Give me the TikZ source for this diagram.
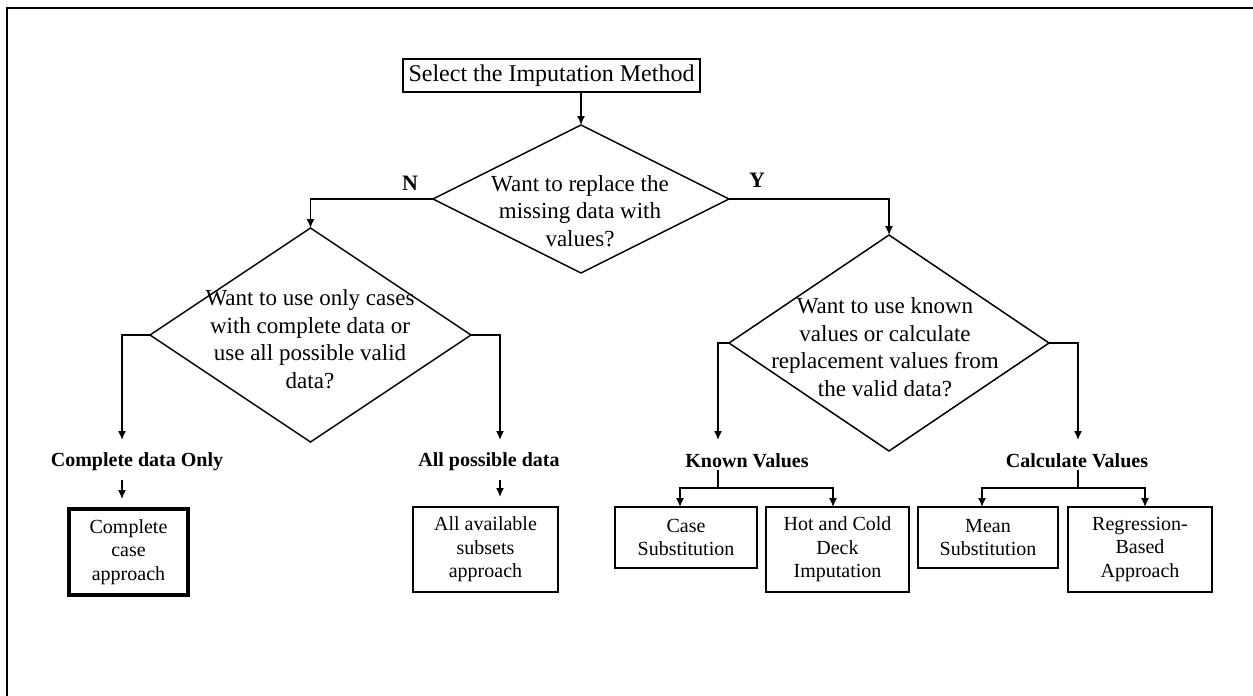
\documentclass[tikz,border=0pt]{standalone}
\usepackage{fontspec}
\setmainfont{Liberation Serif}
\usetikzlibrary{shapes.geometric,arrows.meta,calc}
\begin{document}
\begin{tikzpicture}[x=1pt,y=-1pt,
  every node/.style={inner sep=0pt, outer sep=0pt},
  arr/.style={-{Latex[length=9pt,width=8pt]}, line width=1.5pt},
  ln/.style={line width=1.5pt},
  boxn/.style={draw, line width=1.4pt, align=center, font=\fontsize{20}{23.5}\selectfont},
  dia/.style={draw, diamond, line width=1.5pt, inner sep=0pt},
  dtxt/.style={align=center, font=\fontsize{23}{27.5}\selectfont},
  lbl/.style={font=\fontsize{20}{24}\bfseries\selectfont, inner sep=2pt},
  yn/.style={font=\fontsize{22}{24}\bfseries\selectfont}]
\useasboundingbox (0,0) rectangle (1253,696);
% frame
\draw[line width=2pt] (7,696) -- (7,8) -- (1253,8);
% nodes
\node[boxn, minimum width=297pt, minimum height=33pt, font=\fontsize{24}{28}\selectfont] (top) at (551.5,75.5) {Select the Imputation Method};
\node[dia, minimum width=296pt, minimum height=148pt] (d1) at (581,199) {};
\node[dtxt] (t1) at (580,211) {Want to replace the\\missing data with\\values?};
\node[yn] (N) at (410,183) {N};
\node[yn] (Y) at (757,180) {Y};
\node[dia, minimum width=321pt, minimum height=214pt] (dL) at (310.5,335) {};
\node[dtxt] (tL) at (310,339) {Want to use only cases\\with complete data or\\use all possible valid\\data?};
\node[dia, minimum width=320pt, minimum height=216pt] (dR) at (889,343) {};
\node[dtxt] (tR) at (885,347) {Want to use known\\values or calculate\\replacement values from\\the valid data?};
\node[lbl] (lA) at (137,462) {Complete data Only};
\node[lbl] (lB) at (489,462) {All possible data};
\node[lbl] (lK) at (747,461) {Known Values};
\node[lbl] (lC) at (1077,461) {Calculate Values};
\node[boxn, line width=4pt, minimum width=119pt, minimum height=86pt] (bA) at (128.5,552) {Complete\\case\\approach};
\node[boxn, minimum width=145pt, minimum height=85pt] (bB) at (485.5,549.5) {All available\\subsets\\approach};
\node[boxn, minimum width=142pt, minimum height=61pt] (bC) at (686,537.5) {Case\\Substitution};
\node[boxn, minimum width=143pt, minimum height=85pt] (bD) at (837.5,549.5) {Hot and Cold\\Deck\\Imputation};
\node[boxn, minimum width=140pt, minimum height=61pt] (bE) at (988,537.5) {Mean\\Substitution};
\node[boxn, minimum width=144pt, minimum height=85pt] (bF) at (1140,549.5) {Regression-\\Based\\Approach};
% coordinates
\coordinate (cA) at (122,440);
\coordinate (cB) at (500,440);
\coordinate (cK) at (718,440);
\coordinate (cC) at (1078,440);
\coordinate (kj) at (718,488);
\coordinate (cj) at (1078,488);
% connectors
\draw[arr] (top.south -| d1.north) -- (d1.north);
\draw[arr] (d1.west) -| (dL.north);
\draw[arr] (d1.east) -| (dR.north);
\draw[arr] (dL.west) -| (cA);
\draw[arr] (dL.east) -| (cB);
\draw[arr] (dR.west) -| (cK);
\draw[arr] (dR.east) -| (cC);
\draw[arr, shorten <=7pt, shorten >=10pt] (lA.south -| cA) -- (bA.north -| cA);
\draw[arr, shorten <=7pt, shorten >=10pt] (lB.south -| cB) -- (bB.north -| cB);
\draw[ln] (lK.south -| kj) -- (kj);
\draw[arr] (kj) -| ([xshift=-6pt]bC.north);
\draw[arr] (kj) -| ([xshift=-4.5pt]bD.north);
\draw[ln] (lC.south -| cj) -- (cj);
\draw[arr] (cj) -| ([xshift=-6pt]bE.north);
\draw[arr] (cj) -| ([xshift=5pt]bF.north);
\end{tikzpicture}
\end{document}
